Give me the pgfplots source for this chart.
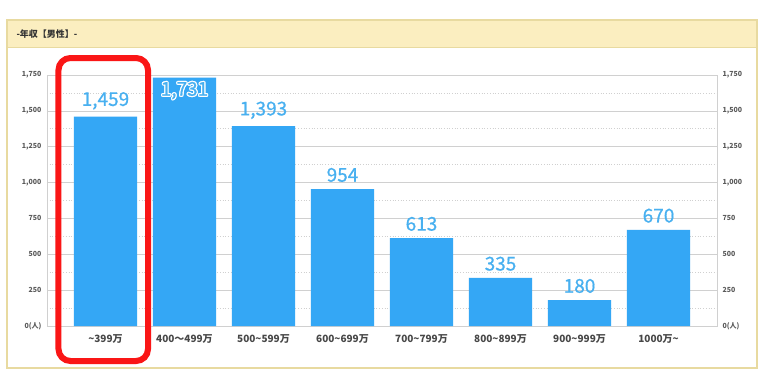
\documentclass[border=0pt]{standalone}
\usepackage{fontspec}
\setmainfont{Noto Sans CJK JP}
\newfontfamily\numfont{Noto Sans CJK JP}[FakeBold=0.7]
\usepackage{pgfplots}
\pgfplotsset{compat=1.18}
\definecolor{barblue}{RGB}{52,167,245}
\definecolor{lblblue}{RGB}{72,176,240}
\definecolor{frameb}{RGB}{232,218,160}
\definecolor{headbg}{RGB}{251,238,192}
\definecolor{gridc}{RGB}{208,208,208}
\definecolor{tickc}{RGB}{90,90,90}
\definecolor{annred}{RGB}{250,22,22}
\newcommand\halo[1]{\leavevmode
 \rlap{\textcolor{white}{\kern-1.2pt#1}}%
 \rlap{\textcolor{white}{\kern1.2pt#1}}%
 \rlap{\textcolor{white}{\raisebox{1.2pt}{#1}}}%
 \rlap{\textcolor{white}{\raisebox{-1.2pt}{#1}}}%
 \rlap{\textcolor{white}{\kern-0.9pt\raisebox{0.9pt}{#1}}}%
 \rlap{\textcolor{white}{\kern0.9pt\raisebox{0.9pt}{#1}}}%
 \rlap{\textcolor{white}{\kern-0.9pt\raisebox{-0.9pt}{#1}}}%
 \rlap{\textcolor{white}{\kern0.9pt\raisebox{-0.9pt}{#1}}}%
 #1}
\pgfplotsset{
  commonax/.style={
    at={(0pt,0pt)}, anchor=south west, scale only axis,
    width=670pt, height=251pt,
    xmin=-0.74, xmax=7.74, ymin=0, ymax=1750,
    ytick={0,250,500,750,1000,1250,1500,1750},
    yticklabels={{0(人)},250,500,750,{1,000},{1,250},{1,500},{1,750}},
    major tick length=0pt, minor tick length=0pt,
    axis line style={gridc, line width=0.7pt},
    yticklabel style={font=\fontsize{7}{8}\selectfont\bfseries, text=tickc},
  }
}
\begin{document}
\begin{tikzpicture}
\useasboundingbox (-47pt,-58pt) rectangle (721pt,326pt);
\fill[white] (-47pt,-58pt) rectangle (721pt,326pt);
\draw[frameb, line width=1.3pt, fill=white] (-40pt,-42pt) rectangle (710pt,306pt);
\fill[headbg] (-39.3pt,279pt) rectangle (709.3pt,305.3pt);
\draw[frameb, line width=0.8pt] (-40pt,279pt) -- (710pt,279pt);
\node[anchor=west, font=\fontsize{9}{10}\selectfont\bfseries, text=black!80] at (-34pt,292pt) {-年収【男性】-};

\begin{axis}[commonax,
  /pgf/number format/1000 sep={,},
  /pgf/number format/assume math mode=true,
  xtick={0,1,2,3,4,5,6,7},
  xticklabels={{\textasciitilde399万},{400〜499万},{500\textasciitilde599万},{600\textasciitilde699万},{700\textasciitilde799万},{800\textasciitilde899万},{900\textasciitilde999万},{1000万\textasciitilde}},
  xticklabel style={font=\fontsize{10}{11}\selectfont\bfseries, text=black!72, yshift=-5pt},
  minor y tick num=1,
  ymajorgrids, yminorgrids,
  major grid style={gridc, line width=0.7pt},
  minor grid style={gridc, line width=0.7pt, dotted},
  yticklabel style={xshift=-2pt},
  clip=false,
]
\addplot[ybar, bar width=0.8, bar shift=0pt, fill=barblue, draw=none]
  coordinates {(0,1459) (1,1731) (2,1393) (3,954) (4,613) (5,335) (6,180) (7,670)};
\addplot[ybar, bar width=0.8, bar shift=0pt, fill=none, draw=none,
  nodes near coords,
  every node near coord/.append style={font=\numfont\fontsize{19}{20}\selectfont, text=lblblue, inner sep=0pt, yshift=7pt}]
  coordinates {(0,1459) (2,1393) (3,954) (4,613) (5,335) (6,180) (7,670)};
\addplot[ybar, bar width=0.8, bar shift=0pt, fill=none, draw=none,
  nodes near coords={\halo{1,731}},
  every node near coord/.append style={font=\numfont\fontsize{19}{20}\selectfont, text=lblblue, inner sep=0pt, yshift=-23pt}]
  coordinates {(1,1731)};
\end{axis}

\begin{axis}[commonax,
  axis x line=none, axis y line*=right,
  yticklabel style={xshift=2pt},
]
\addplot[draw=none] coordinates {(0,0)};
\end{axis}

\draw[annred, line width=6pt, rounded corners=12pt] (11.5pt,-35pt) rectangle (101pt,268pt);
\end{tikzpicture}
\end{document}
